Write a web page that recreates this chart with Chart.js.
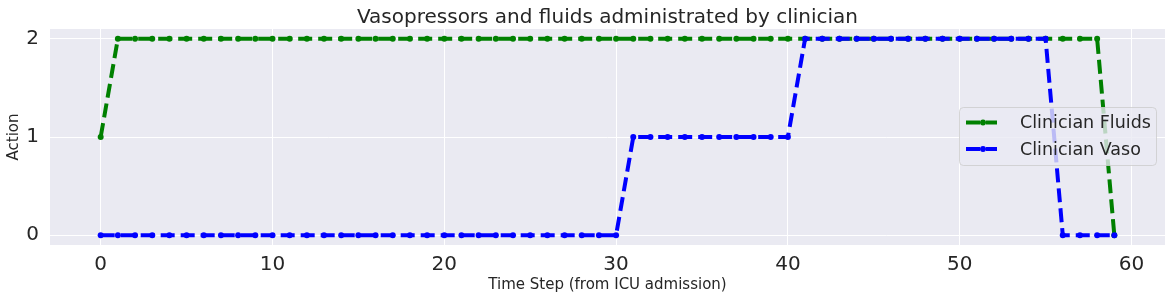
<!DOCTYPE html>
<html>
<head>
<meta charset="utf-8">
<script src="https://cdn.jsdelivr.net/npm/chart.js@4"></script>
<style>
  html, body { margin: 0; padding: 0; background: #fff; }
  #wrap { width: 1171px; height: 300px; position: relative; }
</style>
</head>
<body>
<div id="wrap"><canvas id="actionChart"></canvas></div>
<script>
// chart data
var timeSteps = [0,1,2,3,4,5,6,7,8,9,10,11,12,13,14,15,16,17,18,19,20,21,22,23,24,25,26,27,28,29,
  30,31,32,33,34,35,36,37,38,39,40,41,42,43,44,45,46,47,48,49,50,51,52,53,54,55,56,57,58,59];
var fluidsActions = [1,2,2,2,2,2,2,2,2,2,2,2,2,2,2,2,2,2,2,2,2,2,2,2,2,2,2,2,2,2,
  2,2,2,2,2,2,2,2,2,2,2,2,2,2,2,2,2,2,2,2,2,2,2,2,2,2,2,2,2,0];
var vasoActions = [0,0,0,0,0,0,0,0,0,0,0,0,0,0,0,0,0,0,0,0,0,0,0,0,0,0,0,0,0,0,
  0,1,1,1,1,1,1,1,1,1,1,2,2,2,2,2,2,2,2,2,2,2,2,2,2,2,0,0,0,0];
var xTicks = [0, 10, 20, 30, 40, 50, 60];
var yTicks = [0, 1, 2];
var seriesNames = ["Clinician Fluids", "Clinician Vaso"];
var chartTitle = "Vasopressors and fluids administrated by clinician";

var textColor = "#262626";
var fontFamily = "'DejaVu Sans', sans-serif";
var dashPattern = [14, 6];

function toPoints(ys) {
  return ys.map(function (y, i) { return { x: timeSteps[i], y: y }; });
}

// background, title and legend drawn like the seaborn darkgrid figure
var decorPlugin = {
  id: "decor",
  beforeDraw: function (chart) {
    var c = chart.ctx, a = chart.chartArea;
    c.save();
    c.fillStyle = "#EAEAF2";
    c.fillRect(a.left, a.top, a.right - a.left, a.bottom - a.top);
    c.restore();
  },
  afterDatasetsDraw: function (chart) {
    var c = chart.ctx, a = chart.chartArea;
    c.save();
    // title
    c.fillStyle = textColor;
    c.font = "20px " + fontFamily;
    c.textAlign = "center";
    c.textBaseline = "alphabetic";
    c.fillText(chartTitle, (a.left + a.right) / 2, 22.5);

    // legend box
    var bx = 959.5, by = 107.5, bw = 197, bh = 58, r = 4;
    c.beginPath();
    c.moveTo(bx + r, by);
    c.arcTo(bx + bw, by, bx + bw, by + bh, r);
    c.arcTo(bx + bw, by + bh, bx, by + bh, r);
    c.arcTo(bx, by + bh, bx, by, r);
    c.arcTo(bx, by, bx + bw, by, r);
    c.closePath();
    c.fillStyle = "rgba(234,234,242,0.8)";
    c.fill();
    c.strokeStyle = "rgba(204,204,204,0.8)";
    c.lineWidth = 1;
    c.stroke();

    var colors = ["#008000", "#0000FF"];
    var rows = [122.5, 149];
    for (var i = 0; i < 2; i++) {
      c.strokeStyle = colors[i];
      c.lineWidth = 4;
      c.setLineDash(dashPattern);
      c.beginPath();
      c.moveTo(966, rows[i]);
      c.lineTo(997, rows[i]);
      c.stroke();
      c.setLineDash([]);
      c.fillStyle = colors[i];
      c.beginPath();
      c.arc(983, rows[i], 3, 0, Math.PI * 2);
      c.fill();
      c.fillStyle = textColor;
      c.font = "17.5px " + fontFamily;
      c.textAlign = "left";
      c.textBaseline = "middle";
      c.fillText(seriesNames[i], 1020, rows[i] + 1);
    }
    c.restore();
  }
};

var ctx = document.getElementById("actionChart").getContext("2d");
var actionChart = new Chart(ctx, {
  type: "line",
  data: {
    datasets: [{
      label: seriesNames[0],
      data: toPoints(fluidsActions),
      borderColor: "#008000",
      backgroundColor: "#008000",
      borderWidth: 4,
      borderDash: dashPattern,
      pointRadius: 3,
      pointBorderWidth: 0,
      pointHoverRadius: 3,
      tension: 0,
      fill: false,
      order: 2
    }, {
      label: seriesNames[1],
      data: toPoints(vasoActions),
      borderColor: "#0000FF",
      backgroundColor: "#0000FF",
      borderWidth: 4,
      borderDash: dashPattern,
      pointRadius: 3,
      pointBorderWidth: 0,
      pointHoverRadius: 3,
      tension: 0,
      fill: false,
      order: 1
    }]
  },
  options: {
    responsive: true,
    maintainAspectRatio: false,
    animation: false,
    events: [],
    layout: { padding: { top: 29, right: 6, left: 0, bottom: 0 } },
    plugins: {
      legend: { display: false },
      title: { display: false },
      tooltip: { enabled: false }
    },
    scales: {
      x: {
        type: "linear",
        min: -2.95,
        max: 61.95,
        afterBuildTicks: function (scale) {
          scale.ticks = xTicks.map(function (v) { return { value: v }; });
        },
        afterFit: function (scale) { scale.height = 55; },
        grid: { color: "#ffffff", lineWidth: 1, drawTicks: false },
        border: { display: false },
        ticks: {
          color: textColor,
          font: { family: fontFamily, size: 20 },
          padding: 8,
          maxRotation: 0
        },
        title: {
          display: true,
          text: "Time Step (from ICU admission)",
          color: textColor,
          font: { family: fontFamily, size: 15 },
          padding: { top: 0, bottom: 6 }
        }
      },
      y: {
        type: "linear",
        min: -0.1,
        max: 2.1,
        afterBuildTicks: function (scale) {
          scale.ticks = yTicks.map(function (v) { return { value: v }; });
        },
        afterFit: function (scale) { scale.width = 50; },
        grid: { color: "#ffffff", lineWidth: 1, drawTicks: false },
        border: { display: false },
        ticks: {
          color: textColor,
          font: { family: fontFamily, size: 20 },
          padding: 11
        },
        title: {
          display: true,
          text: "Action",
          color: textColor,
          font: { family: fontFamily, size: 15 },
          padding: { top: 5, bottom: 0 }
        }
      }
    }
  },
  plugins: [decorPlugin]
});
</script>
</body>
</html>
